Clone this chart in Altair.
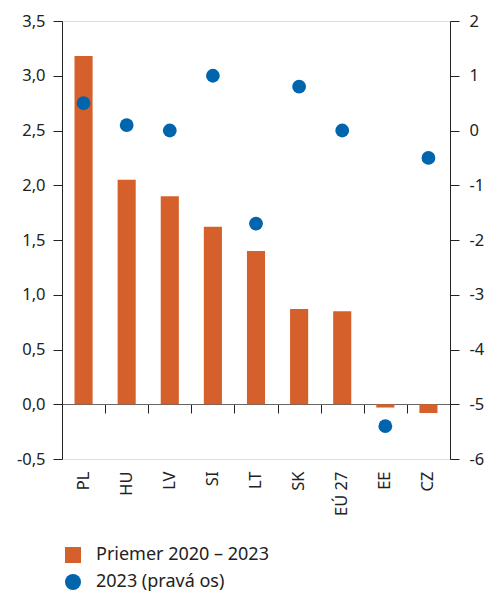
import altair as alt
import pandas as pd

categories = ["PL", "HU", "LV", "SI", "LT", "SK", "EÚ 27", "EE", "CZ"]
avg_2020_2023 = [3.18, 2.05, 1.90, 1.62, 1.40, 0.87, 0.85, -0.03, -0.08]
val_2023 = [0.5, 0.1, 0.0, 1.0, -1.7, 0.8, 0.0, -5.4, -0.5]
left_ticks = [-0.5, 0.0, 0.5, 1.0, 1.5, 2.0, 2.5, 3.0, 3.5]
right_ticks = [-6, -5, -4, -3, -2, -1, 0, 1, 2]
s1 = "Priemer 2020 – 2023"
s2 = "2023 (pravá os)"

ORANGE = "#D6602B"
BLUE = "#0065AD"
FONT = "Noto Sans"

df = pd.DataFrame({"cat": categories, "avg": avg_2020_2023, "v23": val_2023})

xscale = alt.Scale(domain=categories, paddingInner=0, paddingOuter=0)
color_scale = alt.Scale(domain=[s1, s2], range=[ORANGE, BLUE])
shape_scale = alt.Scale(domain=[s1, s2], range=["square", "circle"])

base = alt.Chart(df)

bars = base.transform_calculate(series=f"'{s1}'").mark_bar(
    color=ORANGE, width=alt.RelativeBandSize(0.42)).encode(
    x=alt.X("cat:N", sort=categories, scale=xscale, title=None,
            axis=alt.Axis(orient="bottom", labelAngle=-90, ticks=False, domain=False,
                          labelFontSize=16.5, labelPadding=12, labelColor="#222",
                          labelFont=FONT)),
    y=alt.Y("avg:Q", scale=alt.Scale(domain=[-0.5, 3.5], nice=False, zero=False),
            title=None,
            axis=alt.Axis(values=left_ticks, orient="left", grid=False,
                          labelExpr="replace(replace(format(datum.value, '.1f'), '.', ','), '\u2212', '-')",
                          tickSize=9, tickColor="#222", domainColor="#222",
                          labelFontSize=16.5, labelColor="#222", labelFont=FONT,
                          labelPadding=8)),
    color=alt.Color("series:N", scale=color_scale, title=None,
                    legend=alt.Legend(orient="none", legendX=2, legendY=525,
                                      symbolSize=256, labelFontSize=18,
                                      labelFont=FONT, labelColor="#222",
                                      labelLimit=400,
                                      rowPadding=9, labelOffset=14,
                                      symbolStrokeWidth=0)),
)

points = base.transform_calculate(series=f"'{s2}'").mark_point(
    filled=True, opacity=1, size=190).encode(
    x=alt.X("cat:N", sort=categories, scale=xscale, title=None,
            axis=alt.Axis(orient="bottom", labels=False, ticks=True, domain=True,
                          offset=-55, tickSize=9, tickColor="#222",
                          domainColor="#666", tickBand="extent")),
    y=alt.Y("v23:Q", scale=alt.Scale(domain=[-6, 2], nice=False, zero=False),
            title=None,
            axis=alt.Axis(values=right_ticks, orient="right", grid=False,
                          labelExpr="replace(format(datum.value, 'd'), '\u2212', '-')",
                          tickSize=9, tickColor="#222", domainColor="#222",
                          labelFontSize=16.5, labelColor="#222", labelFont=FONT,
                          labelPadding=10)),
    color=alt.Color("series:N", scale=color_scale, title=None),
    shape=alt.Shape("series:N", scale=shape_scale, title=None),
)

chart = alt.layer(bars, points).resolve_scale(
    y="independent"
).resolve_axis(x="independent").properties(
    width=388, height=438,
    autosize=alt.AutoSizeParams(type="none"),
    padding={"left": 62, "top": 21, "right": 41, "bottom": 132},
).configure_view(stroke=None).configure(font=FONT, background="white")

chart.save("out.html", embed_options={"renderer": "svg", "actions": False})
